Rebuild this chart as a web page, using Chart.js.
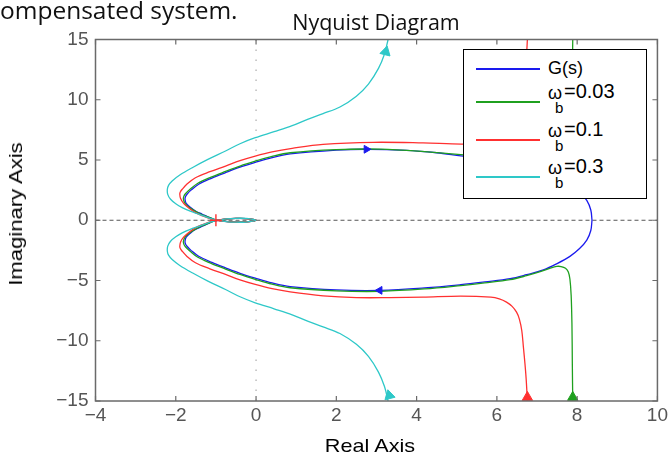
<!DOCTYPE html>
<html>
<head>
<meta charset="utf-8">
<script src="https://cdn.jsdelivr.net/npm/chart.js@4.4.1/dist/chart.umd.min.js"></script>
<style>
  body { margin: 0; background: #fff; }
  #wrap { position: relative; width: 671px; height: 455px; overflow: hidden; background: #fff; }
  canvas { position: absolute; left: 0; top: 0; }
  .txt { position: absolute; white-space: nowrap; line-height: 1; }
  #caption { left: 0; top: -7px; font: 24.5px 'Open Sans', sans-serif; color: #111; }
  #title { left: 376px; top: 7px; font: 21.5px 'Open Sans', sans-serif; color: #111; transform: translateX(-50%); }
  #xlab { left: 370px; top: 435px; font: 19px 'Liberation Sans', Arial, sans-serif; color: #000; transform: translateX(-50%) scaleX(1.14); }
  #ylab { left: 16px; top: 214px; font: 19px 'Liberation Sans', Arial, sans-serif; color: #000; transform: translate(-50%, -50%) rotate(-90deg) scaleX(1.16); }
  #legend { position: absolute; left: 463px; top: 49px; width: 184px; height: 150px; box-sizing: border-box;
            border: 1.5px solid #000; background: #fff; font-family: 'Liberation Sans', Arial, sans-serif; color: #000; }
  #legend .ln { position: absolute; left: 12px; width: 64px; height: 1.5px; }
  #legend span { position: absolute; white-space: nowrap; line-height: 20px; }
</style>
</head>
<body>
<div id="wrap">
  <canvas id="chart" width="671" height="455"></canvas>
  <div class="txt" id="caption">ompensated system.</div>
  <div class="txt" id="title">Nyquist Diagram</div>
  <div class="txt" id="xlab">Real Axis</div>
  <div class="txt" id="ylab">Imaginary Axis</div>
  <div id="legend"></div>
</div>
<script>
// open-loop G(s): from w=0 (right) through lower half into the origin, then back over the upper half
const gsLower = [[8.37, 0], [8.34, -0.85], [8.24, -1.65], [8.06, -2.35], [7.82, -3.0], [7.5, -3.6], [7.16, -4.12],
  [6.74, -4.52], [6.33, -4.85], [5.7, -5.12], [5.1, -5.35], [4.2, -5.62], [3.1, -5.82], [2.0, -5.78], [0.85, -5.5],
  [0.4, -5.2], [-0.02, -4.8], [-0.4, -4.4], [-0.76, -3.95], [-1.1, -3.5], [-1.43, -2.99], [-1.62, -2.5],
  [-1.72, -2.16], [-1.76, -1.95], [-1.77, -1.74], [-1.74, -1.4], [-1.63, -1.05], [-1.5, -0.75], [-1.34, -0.5],
  [-1.2, -0.28], [-1.05, -0.08], [-0.9, 0.04], [-0.7, 0.12], [-0.5, 0.15], [-0.25, 0.14], [-0.08, 0.07], [0, 0]]
const gsUpper = [[0, 0], [-0.08, -0.07], [-0.25, -0.14], [-0.5, -0.15], [-0.7, -0.12], [-0.9, -0.04],
  [-1.05, 0.08], [-1.2, 0.28], [-1.34, 0.5], [-1.5, 0.75], [-1.63, 1.05], [-1.74, 1.4], [-1.77, 1.74],
  [-1.76, 1.95], [-1.72, 2.16], [-1.62, 2.5], [-1.43, 2.99], [-1.1, 3.5], [-0.76, 3.95], [-0.4, 4.4],
  [-0.02, 4.8], [0.4, 5.2], [0.85, 5.5], [2.0, 5.82], [2.75, 5.89], [3.75, 5.8], [4.5, 5.6], [5.1, 5.35],
  [5.7, 5.12], [6.33, 4.85], [6.74, 4.52], [7.16, 4.12], [7.5, 3.6], [7.82, 3.0], [8.06, 2.35], [8.24, 1.65],
  [8.34, 0.85], [8.37, 0]]

// wb = 0.03
const wb003Lower = [[7.89, -15], [7.88, -12], [7.87, -8.6], [7.85, -6.2], [7.82, -4.9], [7.78, -4.3], [7.71, -3.98],
  [7.6, -3.84], [7.49, -3.83], [7.35, -3.95], [7.1, -4.25], [6.74, -4.6], [6.33, -4.93], [5.7, -5.2], [5.1, -5.42],
  [4.2, -5.7], [3.1, -5.9], [2.0, -5.86], [0.85, -5.6], [0.4, -5.3], [-0.02, -4.9], [-0.4, -4.5], [-0.76, -4.05],
  [-1.12, -3.58], [-1.45, -3.07], [-1.65, -2.55], [-1.76, -2.2], [-1.8, -1.98], [-1.81, -1.76], [-1.77, -1.4],
  [-1.66, -1.05], [-1.52, -0.76], [-1.37, -0.5], [-1.21, -0.28], [-1.05, -0.08], [-0.9, 0.04], [-0.7, 0.12],
  [-0.5, 0.15], [-0.25, 0.14], [-0.08, 0.07], [0, 0]]
const wb003Upper = [[0, 0], [-0.08, -0.07], [-0.25, -0.14], [-0.5, -0.15], [-0.7, -0.12], [-0.9, -0.04],
  [-1.05, 0.08], [-1.21, 0.28], [-1.37, 0.5], [-1.52, 0.76], [-1.66, 1.05], [-1.77, 1.4], [-1.81, 1.76],
  [-1.8, 1.98], [-1.76, 2.2], [-1.65, 2.55], [-1.45, 3.07], [-1.12, 3.58], [-0.76, 4.05], [-0.4, 4.5],
  [-0.02, 4.9], [0.4, 5.3], [0.85, 5.6], [2.0, 5.86], [3.1, 5.9], [4.2, 5.7], [5.1, 5.45], [5.7, 5.2],
  [6.33, 4.93], [6.74, 4.6], [7.1, 4.25], [7.35, 3.95], [7.49, 3.83], [7.6, 3.84], [7.71, 3.98], [7.78, 4.3],
  [7.82, 4.9], [7.85, 6.2], [7.87, 8.6], [7.88, 12], [7.89, 15]]

// wb = 0.1
const wb01Lower = [[6.76, -15], [6.73, -13.2], [6.7, -11.93], [6.66, -10.5], [6.62, -9.15], [6.56, -8.2],
  [6.49, -7.63], [6.38, -7.15], [6.24, -6.79], [6.06, -6.52], [5.85, -6.38], [5.1, -6.3], [4.16, -6.38],
  [3.33, -6.42], [2.5, -6.42], [1.67, -6.27], [0.85, -5.95], [0.4, -5.68], [-0.02, -5.33], [-0.4, -4.95],
  [-0.76, -4.5], [-1.15, -4.03], [-1.51, -3.53], [-1.72, -3.0], [-1.84, -2.57], [-1.89, -2.33], [-1.9, -2.16],
  [-1.88, -1.8], [-1.8, -1.38], [-1.66, -0.97], [-1.51, -0.63], [-1.33, -0.36], [-1.15, -0.14], [-0.98, 0],
  [-0.8, 0.09], [-0.5, 0.15], [-0.25, 0.14], [-0.08, 0.07], [0, 0]]
const wb01Upper = [[0, 0], [-0.08, -0.07], [-0.25, -0.14], [-0.5, -0.15], [-0.8, -0.09], [-0.98, 0],
  [-1.15, 0.14], [-1.33, 0.36], [-1.51, 0.63], [-1.66, 0.97], [-1.8, 1.38], [-1.88, 1.8], [-1.9, 2.16],
  [-1.89, 2.33], [-1.84, 2.57], [-1.72, 3.0], [-1.51, 3.53], [-1.15, 4.03], [-0.76, 4.5], [-0.4, 4.95],
  [-0.02, 5.33], [0.4, 5.68], [0.9, 5.97], [1.67, 6.3], [2.92, 6.47], [4.16, 6.42], [5.12, 6.32], [5.85, 6.4],
  [6.06, 6.52], [6.24, 6.79], [6.38, 7.15], [6.49, 7.63], [6.56, 8.2], [6.62, 9.15], [6.66, 10.5], [6.7, 11.93],
  [6.73, 13.2], [6.76, 15]]

// wb = 0.3
const wb03Lower = [[3.29, -15], [3.2, -13.8], [3.05, -12.6], [2.8, -11.3], [2.5, -10.3], [2.09, -9.4],
  [1.67, -8.85], [1.3, -8.4], [0.9, -7.85], [0.45, -7.35], [-0.02, -6.85], [-0.4, -6.35], [-0.76, -5.75],
  [-1.2, -5.05], [-1.59, -4.36], [-1.9, -3.75], [-2.09, -3.26], [-2.18, -2.9], [-2.21, -2.57], [-2.2, -2.15],
  [-2.13, -1.74], [-2.0, -1.37], [-1.84, -1.05], [-1.64, -0.75], [-1.43, -0.5], [-1.25, -0.28], [-1.1, -0.11],
  [-0.95, 0], [-0.75, 0.11], [-0.5, 0.16], [-0.25, 0.15], [-0.08, 0.07], [0, 0]]
const wb03Upper = [[0, 0], [-0.08, -0.07], [-0.25, -0.15], [-0.5, -0.16], [-0.75, -0.11], [-0.95, 0],
  [-1.1, 0.11], [-1.25, 0.28], [-1.43, 0.5], [-1.64, 0.75], [-1.84, 1.05], [-2.0, 1.37], [-2.13, 1.74],
  [-2.2, 2.15], [-2.21, 2.57], [-2.18, 2.9], [-2.09, 3.26], [-1.9, 3.75], [-1.59, 4.36], [-1.2, 5.05],
  [-0.76, 5.75], [-0.4, 6.35], [-0.02, 6.85], [0.45, 7.35], [0.9, 7.85], [1.3, 8.4], [1.67, 8.85], [2.09, 9.4],
  [2.5, 10.3], [2.8, 11.3], [3.05, 12.6], [3.2, 13.8], [3.29, 15]]

// direction arrows: [x, y, rotation in degrees]
const gsArrows = [[2.75, 5.89, 90], [3.08, -5.82, -90]]
const wb003Arrows = [[7.89, -14.7, 0]]
const wb01Arrows = [[6.76, -14.7, 0]]
const wb03Arrows = [[3.23, 13.98, 14], [3.32, -14.55, -14]]
const criticalPoint = [[-1, 0, 0]]

const legendNames = ['G(s)', 'ω_b=0.03', 'ω_b=0.1', 'ω_b=0.3']
const colors = ['#1a1aee', '#1fa01f', '#ff3030', '#2ec8c8']

const xTicks = [-4, -2, 0, 2, 4, 6, 8, 10]
const yTicks = [-15, -10, -5, 0, 5, 10, 15]

const toXY = (arr) => arr.map((p) => ({ x: p[0], y: p[1] }))

function curve(lower, upper, color, order) {
  return {
    data: toXY(lower.concat(upper.slice(1))),
    showLine: true,
    borderColor: color,
    borderWidth: 1.3,
    pointRadius: 0,
    tension: 0.35,
    order: order
  }
}

function arrows(list, color, size, style) {
  return {
    data: toXY(list),
    showLine: false,
    pointStyle: style || 'triangle',
    pointRadius: size,
    rotation: list.map((p) => p[2]),
    backgroundColor: style ? 'transparent' : color,
    borderColor: color,
    borderWidth: style ? 1.4 : 1,
    clip: false,
    order: 0
  }
}

const minus = (v) => String(v).replace('-', '\u2212')
const tickFont = { family: "'Liberation Sans', Arial, sans-serif", size: 19 }

// box and inward tick marks like the original figure
const frame = {
  id: 'frame',
  afterDraw(chart) {
    const { ctx, chartArea: a, scales } = chart
    ctx.save()
    ctx.strokeStyle = '#6a6a6a'
    ctx.lineWidth = 1.5
    ctx.strokeRect(a.left, a.top, a.right - a.left, a.bottom - a.top)
    ctx.lineWidth = 1.2
    ctx.beginPath()
    xTicks.forEach((t) => {
      const x = scales.x.getPixelForValue(t)
      ctx.moveTo(x, a.bottom); ctx.lineTo(x, a.bottom - 5)
      ctx.moveTo(x, a.top); ctx.lineTo(x, a.top + 5)
    })
    yTicks.forEach((t) => {
      const y = scales.y.getPixelForValue(t)
      ctx.moveTo(a.left, y); ctx.lineTo(a.left + 5, y)
      ctx.moveTo(a.right, y); ctx.lineTo(a.right - 5, y)
    })
    ctx.stroke()
    ctx.restore()
  }
}

new Chart(document.getElementById('chart').getContext('2d'), {
  type: 'scatter',
  data: {
    datasets: [
      arrows(criticalPoint, colors[2], 6, 'cross'),
      arrows(gsArrows, colors[0], 4.5),
      arrows(wb003Arrows, colors[1], 6),
      arrows(wb01Arrows, colors[2], 6),
      arrows(wb03Arrows, colors[3], 6),
      curve(wb03Lower, wb03Upper, colors[3], 1),
      curve(wb01Lower, wb01Upper, colors[2], 2),
      curve(wb003Lower, wb003Upper, colors[1], 3),
      curve(gsLower, gsUpper, colors[0], 4),
      {
        data: [{ x: -4, y: 0 }, { x: 10, y: 0 }],
        showLine: true, borderColor: '#555', borderWidth: 1, borderDash: [4, 3], pointRadius: 0, order: 10
      },
      {
        data: [{ x: 0, y: -15 }, { x: 0, y: 15 }],
        showLine: true, borderColor: '#aaa', borderWidth: 1.2, borderDash: [1.5, 8.5], pointRadius: 0, order: 10
      }
    ]
  },
  options: {
    responsive: false,
    animation: false,
    devicePixelRatio: 1,
    layout: { padding: { top: 39.5, right: 13, left: 0, bottom: 0 } },
    plugins: { legend: { display: false }, tooltip: { enabled: false } },
    scales: {
      x: {
        type: 'linear', min: -4, max: 10,
        afterBuildTicks: (s) => { s.ticks = xTicks.map((v) => ({ value: v })) },
        afterFit: (s) => { s.height = 54 },
        ticks: { color: '#555', font: tickFont, padding: 3, callback: minus },
        grid: { display: false, drawTicks: false }, border: { display: false }
      },
      y: {
        type: 'linear', min: -15, max: 15,
        afterBuildTicks: (s) => { s.ticks = yTicks.map((v) => ({ value: v })) },
        afterFit: (s) => { s.width = 95.5 },
        ticks: { color: '#555', font: tickFont, padding: 7, callback: minus },
        grid: { display: false, drawTicks: false }, border: { display: false }
      }
    }
  },
  plugins: [frame]
})

// legend box with subscripted omega labels
const legend = document.getElementById('legend')
const lineY = [18, 51, 89, 126]
legendNames.forEach((name, i) => {
  const ln = document.createElement('div')
  ln.className = 'ln'
  ln.style.top = lineY[i] + 'px'
  ln.style.background = colors[i]
  legend.appendChild(ln)
  if (name.indexOf('_') < 0) {
    const s = document.createElement('span')
    s.textContent = name
    s.style.cssText = 'left:84px; top:' + (lineY[i] - 10) + 'px; font-size:18px'
    legend.appendChild(s)
  } else {
    const parts = name.split('_')
    const sub = parts[1].split('=')
    const w = document.createElement('span')
    w.textContent = parts[0]
    w.style.cssText = 'left:84px; top:' + (lineY[i] - 18) + 'px; font-size:18px'
    const b = document.createElement('span')
    b.textContent = sub[0]
    b.style.cssText = 'left:91px; top:' + (lineY[i] - 3) + 'px; font-size:15px'
    const v = document.createElement('span')
    v.textContent = '=' + sub[1]
    v.style.cssText = 'left:100px; top:' + (lineY[i] - 20) + 'px; font-size:20px'
    legend.appendChild(w)
    legend.appendChild(b)
    legend.appendChild(v)
  }
})
</script>
</body>
</html>
